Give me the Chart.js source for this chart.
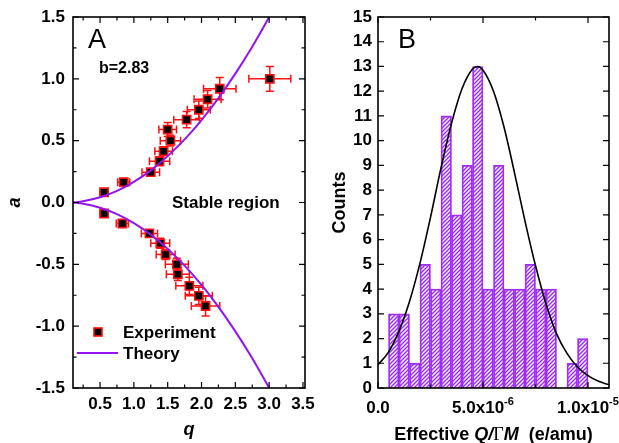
<!DOCTYPE html>
<html>
<head>
<meta charset="utf-8">
<script src="https://cdn.jsdelivr.net/npm/chart.js@4.4.1/dist/chart.umd.min.js"></script>
<style>
  html, body { margin: 0; padding: 0; background: #fff; }
  #wrap { position: relative; width: 619px; height: 443px; overflow: hidden; background: #fff; }
  #chartA { position: absolute; left: 0; top: 0; z-index: 2; }
  #chartB { position: absolute; left: 310px; top: 0; z-index: 1; }
</style>
</head>
<body>
<div id="wrap">
  <canvas id="chartA" width="330" height="443"></canvas>
  <canvas id="chartB" width="309" height="443"></canvas>
</div>
<script>
// ---------- panel A : a-q stability diagram ----------
var upperQ    = [0.56, 0.85, 1.25, 1.38, 1.44, 1.50, 1.54, 1.78, 1.96, 2.09, 2.27, 3.01];
var upperA    = [0.083, 0.164, 0.245, 0.334, 0.415, 0.59, 0.50, 0.67, 0.75, 0.835, 0.92, 1.00];
var upperQErr = [0.06, 0.09, 0.13, 0.15, 0.13, 0.13, 0.15, 0.19, 0.17, 0.20, 0.24, 0.31];
var upperAErr = [0.02, 0.02, 0.025, 0.036, 0.035, 0.057, 0.043, 0.065, 0.07, 0.07, 0.09, 0.10];

var lowerQ    = [0.56, 0.83, 1.23, 1.39, 1.47, 1.635, 1.65, 1.82, 1.96, 2.06];
var lowerA    = [-0.089, -0.17, -0.25, -0.33, -0.42, -0.50, -0.58, -0.674, -0.755, -0.837];
var lowerQErr = [0.06, 0.09, 0.12, 0.14, 0.14, 0.17, 0.17, 0.20, 0.20, 0.21];
var lowerAErr = [0.02, 0.02, 0.025, 0.04, 0.04, 0.05, 0.05, 0.07, 0.07, 0.08];

var theoryQ     = [0.10, 0.25, 0.50, 0.75, 1.00, 1.25, 1.50, 1.75, 2.00, 2.25, 2.50, 2.75, 3.00, 3.10];
var theoryUpper = [0.000, 0.010, 0.042, 0.094, 0.167, 0.260, 0.375, 0.510, 0.667, 0.844, 1.042, 1.260, 1.500, 1.600];
var theoryLower = [0.000, -0.010, -0.042, -0.094, -0.167, -0.260, -0.375, -0.510, -0.667, -0.844, -1.042, -1.260, -1.500, -1.600];

var qTicks = [0.5, 1.0, 1.5, 2.0, 2.5, 3.0, 3.5];
var qMinor = [0.25, 0.75, 1.25, 1.75, 2.25, 2.75, 3.25];
var aTicks = [-1.5, -1.0, -0.5, 0.0, 0.5, 1.0, 1.5];
var aMinor = [-1.25, -0.75, -0.25, 0.25, 0.75, 1.25];

// ---------- panel B : histogram ----------
var binCenters = [0.75e-6, 1.25e-6, 1.75e-6, 2.25e-6, 2.75e-6, 3.25e-6, 3.75e-6, 4.25e-6, 4.75e-6, 5.25e-6,
                  5.75e-6, 6.25e-6, 6.75e-6, 7.25e-6, 7.75e-6, 8.25e-6, 8.75e-6, 9.25e-6, 9.75e-6];
var counts = [3, 3, 1, 5, 4, 11, 7, 9, 13, 4, 9, 4, 4, 5, 4, 4, 0, 1, 2];

var gaussX = [0, 0.5e-6, 1.0e-6, 1.5e-6, 2.0e-6, 2.5e-6, 3.0e-6, 3.5e-6, 4.0e-6, 4.5e-6, 4.75e-6, 5.0e-6,
              5.5e-6, 6.0e-6, 6.5e-6, 7.0e-6, 7.5e-6, 8.0e-6, 8.5e-6, 9.0e-6, 9.5e-6, 10.0e-6, 10.5e-6, 11.0e-6];
var gaussY = [0.94, 1.45, 2.3, 3.5, 5.05, 6.9, 8.9, 10.7, 12.1, 12.9, 13.0, 12.85,
              12.0, 10.55, 8.7, 6.75, 4.95, 3.4, 2.2, 1.4, 0.85, 0.5, 0.27, 0.13];

var qmTicks = [0, 5e-6, 1e-5];
var qmMinor = [2.5e-6, 7.5e-6];
var qmLabels = [['0.0', ''], ['5.0x10', '-6'], ['1.0x10', '-5']];
var countTicks = [0, 1, 2, 3, 4, 5, 6, 7, 8, 9, 10, 11, 12, 13, 14, 15];

var FONT = '"Liberation Sans", Arial, sans-serif';
var PURPLE = '#9314f2';
var BARPURPLE = '#a02cf6';
Chart.defaults.font.family = FONT;
Chart.defaults.color = '#000';

function toPoints(xs, ys) {
  return xs.map(function(x, i) { return { x: x, y: ys[i] }; });
}

// box around the plot with inward ticks on all four sides
var frameTicks = {
  id: 'frameTicks',
  afterDatasetsDraw: function(chart, args, o) {
    var ctx = chart.ctx, a = chart.chartArea;
    var sx = chart.scales.x, sy = chart.scales.y;
    ctx.save();
    ctx.strokeStyle = '#000';
    ctx.lineWidth = 1.2;
    ctx.beginPath();
    function tx(v, len) {
      var p = sx.getPixelForValue(v);
      ctx.moveTo(p, a.bottom); ctx.lineTo(p, a.bottom - len);
      ctx.moveTo(p, a.top); ctx.lineTo(p, a.top + len);
    }
    function ty(v, len) {
      var p = sy.getPixelForValue(v);
      ctx.moveTo(a.left, p); ctx.lineTo(a.left + len, p);
      ctx.moveTo(a.right, p); ctx.lineTo(a.right - len, p);
    }
    o.xMajor.forEach(function(v) { tx(v, 6); });
    o.xMinor.forEach(function(v) { tx(v, 3.5); });
    o.yMajor.forEach(function(v) { ty(v, 6); });
    o.yMinor.forEach(function(v) { ty(v, 3.5); });
    ctx.stroke();
    ctx.lineWidth = 1.6;
    ctx.strokeRect(a.left, a.top, a.right - a.left, a.bottom - a.top);
    ctx.restore();
  }
};

var errorBars = {
  id: 'errorBars',
  beforeDatasetsDraw: function(chart) {
    var ctx = chart.ctx, a = chart.chartArea;
    var sx = chart.scales.x, sy = chart.scales.y;
    ctx.save();
    ctx.beginPath();
    ctx.rect(a.left, a.top, a.right - a.left, a.bottom - a.top);
    ctx.clip();
    ctx.strokeStyle = '#ff1010';
    ctx.lineWidth = 1.5;
    chart.data.datasets.forEach(function(ds) {
      if (!ds.errX) return;
      ds.data.forEach(function(p, i) {
        var x = sx.getPixelForValue(p.x), y = sy.getPixelForValue(p.y);
        var x0 = sx.getPixelForValue(p.x - ds.errX[i]), x1 = sx.getPixelForValue(p.x + ds.errX[i]);
        var y0 = sy.getPixelForValue(p.y - ds.errY[i]), y1 = sy.getPixelForValue(p.y + ds.errY[i]);
        ctx.beginPath();
        ctx.moveTo(x0, y); ctx.lineTo(x1, y);
        ctx.moveTo(x, y0); ctx.lineTo(x, y1);
        ctx.moveTo(x0, y - 4); ctx.lineTo(x0, y + 4);
        ctx.moveTo(x1, y - 4); ctx.lineTo(x1, y + 4);
        ctx.moveTo(x - 4, y0); ctx.lineTo(x + 4, y0);
        ctx.moveTo(x - 4, y1); ctx.lineTo(x + 4, y1);
        ctx.stroke();
      });
    });
    ctx.restore();
  }
};

var notesA = {
  id: 'notesA',
  afterDraw: function(chart) {
    var ctx = chart.ctx, a = chart.chartArea;
    ctx.save();
    ctx.fillStyle = '#000';
    ctx.textBaseline = 'alphabetic';
    ctx.font = '27px ' + FONT;
    ctx.fillText('A', a.left + 15, a.top + 31);
    ctx.font = 'bold 16px ' + FONT;
    ctx.fillText('b=2.83', a.left + 26, a.top + 56);
    ctx.font = 'bold 17px ' + FONT;
    ctx.fillText('Stable region', a.left + 99, a.top + 191);
    // legend
    var mx = a.left + 25, my = a.bottom - 56;
    ctx.fillStyle = '#000';
    ctx.fillRect(mx - 4, my - 4, 8, 8);
    ctx.strokeStyle = '#ff1010';
    ctx.lineWidth = 1.6;
    ctx.strokeRect(mx - 4, my - 4, 8, 8);
    ctx.strokeStyle = PURPLE;
    ctx.lineWidth = 2;
    ctx.beginPath();
    ctx.moveTo(a.left + 4, a.bottom - 35);
    ctx.lineTo(a.left + 45, a.bottom - 35);
    ctx.stroke();
    ctx.fillStyle = '#000';
    ctx.textBaseline = 'middle';
    ctx.font = 'bold 17px ' + FONT;
    ctx.fillText('Experiment', a.left + 50, my + 1);
    ctx.fillText('Theory', a.left + 50, a.bottom - 34);
    ctx.restore();
  }
};

var notesB = {
  id: 'notesB',
  afterDraw: function(chart) {
    var ctx = chart.ctx, a = chart.chartArea, sx = chart.scales.x;
    ctx.save();
    ctx.fillStyle = '#000';
    ctx.textBaseline = 'alphabetic';
    ctx.font = '27px ' + FONT;
    ctx.fillText('B', a.left + 20, a.top + 31);
    // x tick labels with superscripts
    qmTicks.forEach(function(v, i) {
      var base = qmLabels[i][0], sup = qmLabels[i][1];
      ctx.font = 'bold 17px ' + FONT;
      var wb = ctx.measureText(base).width;
      ctx.font = 'bold 11px ' + FONT;
      var ws = sup ? ctx.measureText(sup).width : 0;
      var x = sx.getPixelForValue(v) - (wb + ws) / 2;
      ctx.font = 'bold 17px ' + FONT;
      ctx.fillText(base, x, a.bottom + 25);
      if (sup) {
        ctx.font = 'bold 11px ' + FONT;
        ctx.fillText(sup, x + wb, a.bottom + 17);
      }
    });
    // x axis title with mixed styles
    var parts = [
      ['Effective ', 'bold 18px ' + FONT],
      ['Q/', 'italic bold 18px ' + FONT],
      ['\u0393', '18px "Liberation Serif", serif'],
      ['M', 'italic bold 18px ' + FONT],
      ['  (e/amu)', 'bold 18px ' + FONT]
    ];
    var total = 0;
    parts.forEach(function(p) { ctx.font = p[1]; total += ctx.measureText(p[0]).width; });
    var x = (a.left + a.right) / 2 - total / 2;
    parts.forEach(function(p) {
      ctx.font = p[1];
      ctx.fillText(p[0], x, 440);
      x += ctx.measureText(p[0]).width;
    });
    ctx.restore();
  }
};

function hatch(color) {
  var c = document.createElement('canvas');
  c.width = 4; c.height = 4;
  var g = c.getContext('2d');
  g.fillStyle = '#fff';
  g.fillRect(0, 0, 4, 4);
  g.strokeStyle = color;
  g.lineWidth = 1.5;
  g.beginPath();
  g.moveTo(0, 4); g.lineTo(4, 0);
  g.moveTo(-1, 1); g.lineTo(1, -1);
  g.moveTo(3, 5); g.lineTo(5, 3);
  g.stroke();
  return document.getElementById('chartB').getContext('2d').createPattern(c, 'repeat');
}

// ---------- chart A ----------
var markerStyle = {
  pointStyle: 'rect',
  pointRadius: 5.8,
  pointHoverRadius: 5.8,
  backgroundColor: '#000',
  borderColor: '#ff1010',
  pointBorderWidth: 1.6,
  showLine: false
};

new Chart(document.getElementById('chartA'), {
  type: 'scatter',
  data: {
    datasets: [
      { label: 'Theory', data: toPoints(theoryQ, theoryUpper), showLine: true, pointRadius: 0,
        borderColor: PURPLE, borderWidth: 2, cubicInterpolationMode: 'monotone' },
      { label: 'Theory low', data: toPoints(theoryQ, theoryLower), showLine: true, pointRadius: 0,
        borderColor: PURPLE, borderWidth: 2, cubicInterpolationMode: 'monotone' },
      Object.assign({ label: 'Experiment', data: toPoints(upperQ, upperA), errX: upperQErr, errY: upperAErr }, markerStyle),
      Object.assign({ label: 'Experiment low', data: toPoints(lowerQ, lowerA), errX: lowerQErr, errY: lowerAErr }, markerStyle)
    ]
  },
  options: {
    responsive: false,
    animation: false,
    layout: { padding: { top: 17, right: 25, bottom: 0, left: 0 } },
    plugins: {
      legend: { display: false },
      tooltip: { enabled: false },
      frameTicks: { xMajor: qTicks, xMinor: qMinor, yMajor: aTicks, yMinor: aMinor }
    },
    scales: {
      x: {
        type: 'linear', min: 0.1, max: 3.53,
        grid: { display: false, drawTicks: false },
        border: { display: false },
        afterBuildTicks: function(s) { s.ticks = qTicks.map(function(v) { return { value: v }; }); },
        afterFit: function(s) { s.height = 55; s.paddingLeft = 0; s.paddingRight = 0; },
        ticks: { autoSkip: false, maxRotation: 0, padding: 6, font: { size: 17, weight: 'bold' },
          callback: function(v) { return v.toFixed(1); } },
        title: { display: true, text: 'q', padding: { top: 0, bottom: 2 },
          font: { size: 18, weight: 'bold', style: 'italic' } }
      },
      y: {
        type: 'linear', min: -1.5, max: 1.5,
        grid: { display: false, drawTicks: false },
        border: { display: false },
        afterBuildTicks: function(s) { s.ticks = aTicks.map(function(v) { return { value: v }; }); },
        afterFit: function(s) { s.width = 73; s.paddingTop = 0; s.paddingBottom = 0; },
        ticks: { autoSkip: false, padding: 8, font: { size: 17, weight: 'bold' },
          callback: function(v) { return v.toFixed(1); } },
        title: { display: true, text: 'a', padding: { top: 4, bottom: 0 },
          font: { size: 18, weight: 'bold', style: 'italic' } }
      }
    }
  },
  plugins: [errorBars, frameTicks, notesA]
});

// ---------- chart B ----------
new Chart(document.getElementById('chartB'), {
  type: 'bar',
  data: {
    datasets: [
      { type: 'line', label: 'Gauss fit', data: toPoints(gaussX, gaussY), borderColor: '#000', borderWidth: 1.6,
        pointRadius: 0, cubicInterpolationMode: 'monotone', order: 0 },
      { type: 'bar', label: 'Counts', data: toPoints(binCenters, counts), backgroundColor: hatch(BARPURPLE),
        borderColor: BARPURPLE, borderWidth: 1.8, borderSkipped: 'start', barPercentage: 1, categoryPercentage: 1, order: 1 }
    ]
  },
  options: {
    responsive: false,
    animation: false,
    layout: { padding: { top: 17, right: 10, bottom: 0, left: 0 } },
    plugins: {
      legend: { display: false },
      tooltip: { enabled: false },
      frameTicks: { xMajor: qmTicks, xMinor: qmMinor, yMajor: countTicks, yMinor: [] }
    },
    scales: {
      x: {
        type: 'linear', min: 0, max: 1.1e-5, offset: false,
        grid: { display: false, drawTicks: false },
        border: { display: false },
        ticks: { display: false },
        afterFit: function(s) { s.height = 55; s.paddingLeft = 0; s.paddingRight = 0; }
      },
      y: {
        type: 'linear', min: 0, max: 15,
        grid: { display: false, drawTicks: false },
        border: { display: false },
        afterBuildTicks: function(s) { s.ticks = countTicks.map(function(v) { return { value: v }; }); },
        afterFit: function(s) { s.width = 68; s.paddingTop = 0; s.paddingBottom = 0; },
        ticks: { autoSkip: false, padding: 6, font: { size: 17, weight: 'bold' } },
        title: { display: true, text: 'Counts', padding: { top: 19, bottom: 0 },
          font: { size: 18, weight: 'bold' } }
      }
    }
  },
  plugins: [frameTicks, notesB]
});
</script>
</body>
</html>
